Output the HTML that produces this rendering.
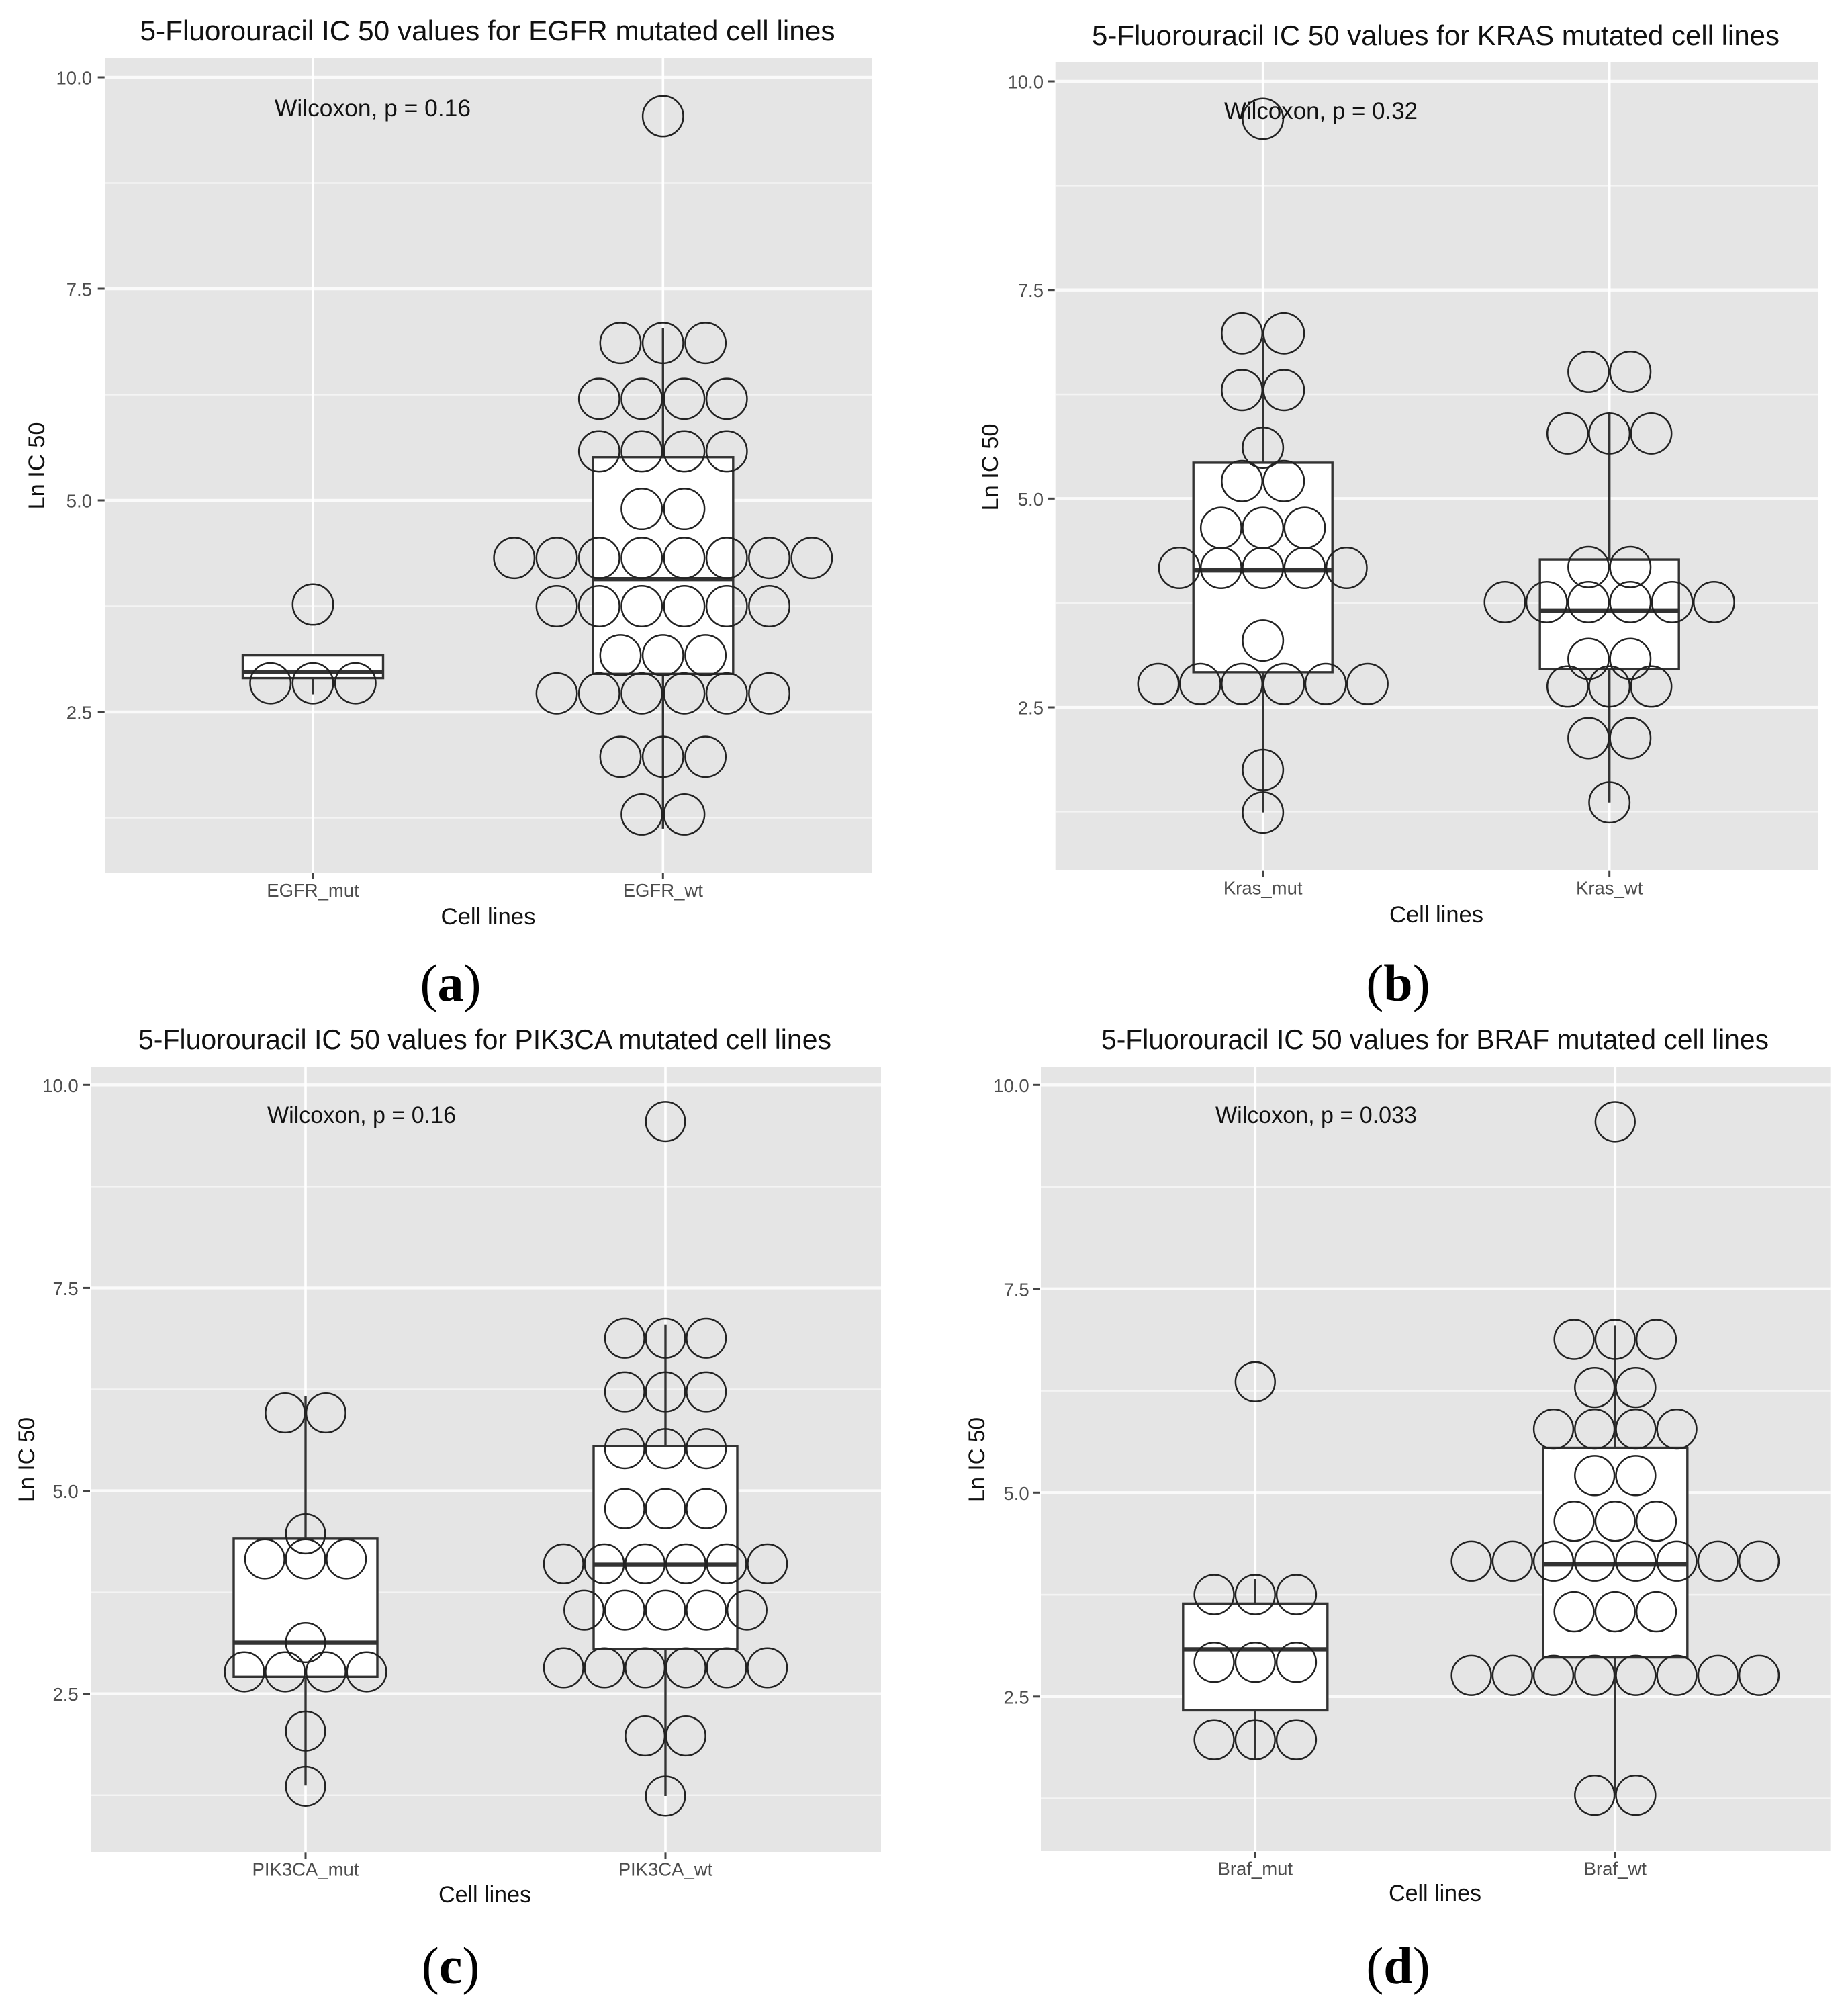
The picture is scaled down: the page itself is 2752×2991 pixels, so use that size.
<!DOCTYPE html>
<html lang="en">
<head>
<meta charset="utf-8">
<title>5-Fluorouracil IC 50 values by mutation status</title>
<style>
  html, body { margin: 0; padding: 0; background: #ffffff; }
  svg { display: block; }
  text { font-family: "Liberation Sans", sans-serif; }
  .title { font-size: 41.5px; fill: #111111; text-anchor: middle; }
  .axis-title { font-size: 34.7px; fill: #111111; text-anchor: middle; }
  .note { font-size: 35px; fill: #111111; }
  .tick-label { font-size: 27.5px; fill: #4d4d4d; }
  .panel-label { font-family: "Liberation Serif", serif; font-size: 78px; fill: #000000; text-anchor: middle; }
</style>
</head>
<body>
<svg id="figure" xmlns="http://www.w3.org/2000/svg" width="2752" height="2991" viewBox="0 0 2752 2991">
  <rect x="0" y="0" width="2752" height="2991" fill="#ffffff"/>

  <g id="plot-a"></g>
  <g id="plot-b"></g>
  <g id="plot-c"></g>
  <g id="plot-d"></g>

  <text class="title" x="726" y="60" textLength="1035" lengthAdjust="spacingAndGlyphs">5-Fluorouracil IC 50 values for EGFR mutated cell lines</text>
  <text class="title" x="2138" y="67" textLength="1024" lengthAdjust="spacingAndGlyphs">5-Fluorouracil IC 50 values for KRAS mutated cell lines</text>
  <text class="title" x="722" y="1562" textLength="1032" lengthAdjust="spacingAndGlyphs">5-Fluorouracil IC 50 values for PIK3CA mutated cell lines</text>
  <text class="title" x="2137" y="1562" textLength="994" lengthAdjust="spacingAndGlyphs">5-Fluorouracil IC 50 values for BRAF mutated cell lines</text>

  <text class="note" x="409" y="173" textLength="292" lengthAdjust="spacingAndGlyphs">Wilcoxon, p = 0.16</text>
  <text class="note" x="1823" y="177" textLength="288" lengthAdjust="spacingAndGlyphs">Wilcoxon, p = 0.32</text>
  <text class="note" x="398" y="1672" textLength="281" lengthAdjust="spacingAndGlyphs">Wilcoxon, p = 0.16</text>
  <text class="note" x="1810" y="1672" textLength="300" lengthAdjust="spacingAndGlyphs">Wilcoxon, p = 0.033</text>

  <text class="axis-title" x="727" y="1376" textLength="141" lengthAdjust="spacingAndGlyphs">Cell lines</text>
  <text class="axis-title" x="2139" y="1373" textLength="140" lengthAdjust="spacingAndGlyphs">Cell lines</text>
  <text class="axis-title" x="722" y="2832" textLength="138" lengthAdjust="spacingAndGlyphs">Cell lines</text>
  <text class="axis-title" x="2137" y="2830" textLength="138" lengthAdjust="spacingAndGlyphs">Cell lines</text>

  <text class="axis-title" transform="translate(66 693.5) rotate(-90)" textLength="130" lengthAdjust="spacingAndGlyphs">Ln IC 50</text>
  <text class="axis-title" transform="translate(1486 695.5) rotate(-90)" textLength="130" lengthAdjust="spacingAndGlyphs">Ln IC 50</text>
  <text class="axis-title" transform="translate(51 2173) rotate(-90)" textLength="126" lengthAdjust="spacingAndGlyphs">Ln IC 50</text>
  <text class="axis-title" transform="translate(1466 2173) rotate(-90)" textLength="126" lengthAdjust="spacingAndGlyphs">Ln IC 50</text>

  <text class="panel-label" x="671" y="1490">(<tspan font-weight="bold">a</tspan>)</text>
  <text class="panel-label" x="2082" y="1490">(<tspan font-weight="bold">b</tspan>)</text>
  <text class="panel-label" x="671" y="2953">(<tspan font-weight="bold">c</tspan>)</text>
  <text class="panel-label" x="2082" y="2953">(<tspan font-weight="bold">d</tspan>)</text>
</svg>

<script>
// Shared axis values
const yMajorTicks = [2.5, 5, 7.5, 10];
const yMajorLabels = ['2.5', '5.0', '7.5', '10.0'];
const yMinorTicks = [1.25, 3.75, 6.25, 8.75];

// Panel a: EGFR
const egfrCategories = ['EGFR_mut', 'EGFR_wt'];
const egfrMutRowValues = [3.77, 2.84];
const egfrMutRowCounts = [1, 3];
const egfrMutBox = [2.71, 2.90, 2.97, 3.17, 3.17];
const egfrWtRowValues = [9.54, 6.86, 6.20, 5.58, 4.90, 4.32, 3.75, 3.17, 2.72, 1.97, 1.29];
const egfrWtRowCounts = [1, 3, 4, 4, 2, 8, 6, 3, 6, 3, 2];
const egfrWtBox = [1.12, 2.95, 4.07, 5.51, 7.04];

// Panel b: KRAS
const krasCategories = ['Kras_mut', 'Kras_wt'];
const krasMutRowValues = [9.55, 6.98, 6.30, 5.61, 5.21, 4.65, 4.17, 3.30, 2.78, 1.75, 1.24];
const krasMutRowCounts = [1, 2, 2, 1, 2, 3, 5, 1, 6, 1, 1];
const krasMutBox = [1.24, 2.92, 4.14, 5.43, 6.93];
const krasWtRowValues = [6.52, 5.78, 4.18, 3.76, 3.08, 2.75, 2.13, 1.36];
const krasWtRowCounts = [2, 3, 2, 6, 2, 3, 2, 1];
const krasWtBox = [1.36, 2.96, 3.66, 4.27, 6.02];

// Panel c: PIK3CA
const pik3caCategories = ['PIK3CA_mut', 'PIK3CA_wt'];
const pik3caMutRowValues = [5.96, 4.47, 4.16, 3.13, 2.77, 2.04, 1.36];
const pik3caMutRowCounts = [2, 1, 3, 1, 4, 1, 1];
const pik3caMutBox = [1.37, 2.71, 3.13, 4.41, 6.17];
const pik3caWtRowValues = [9.55, 6.88, 6.22, 5.52, 4.78, 4.10, 3.53, 2.82, 1.98, 1.24];
const pik3caWtRowCounts = [1, 3, 3, 3, 3, 6, 5, 6, 2, 1];
const pik3caWtBox = [1.24, 3.05, 4.09, 5.55, 7.05];

// Panel d: BRAF
const brafCategories = ['Braf_mut', 'Braf_wt'];
const brafMutRowValues = [6.36, 3.75, 2.92, 1.97];
const brafMutRowCounts = [1, 3, 3, 3];
const brafMutBox = [1.73, 2.33, 3.08, 3.64, 3.94];
const brafWtRowValues = [9.55, 6.88, 6.29, 5.78, 5.21, 4.65, 4.16, 3.54, 2.76, 1.29];
const brafWtRowCounts = [1, 3, 2, 4, 2, 3, 8, 3, 8, 2];
const brafWtBox = [1.29, 2.98, 4.12, 5.55, 7.05];

const SVG_NS = 'http://www.w3.org/2000/svg';

function shape(parent, tag, attrs) {
  const el = document.createElementNS(SVG_NS, tag);
  for (const key in attrs) el.setAttribute(key, attrs[key]);
  parent.appendChild(el);
  return el;
}

function drawPlot(plot) {
  const root = document.getElementById(plot.id);
  const yScale = v => plot.y10 + (10 - v) * plot.pxPerUnit;
  const xScale = i => plot.x0 + i * plot.xStep;

  const panel = shape(root, 'rect', { x: plot.left, y: plot.top, width: plot.right - plot.left, height: plot.bottom - plot.top, fill: '#e5e5e5' });
  
  

  yMinorTicks.forEach(v => {
    const line = shape(root, 'line', { x1: plot.left, x2: plot.right, y1: yScale(v), y2: yScale(v), stroke: '#f4f4f4', 'stroke-width': 2.6 });
    
    
  });

  yMajorTicks.forEach((v, i) => {
    const y = yScale(v);
    const line = shape(root, 'line', { x1: plot.left, x2: plot.right, y1: y, y2: y, stroke: '#fafafa', 'stroke-width': 4.4 });
    
    

    const tick = shape(root, 'line', { x1: plot.left - 11, x2: plot.left - 1, y1: y, y2: y, stroke: '#444444', 'stroke-width': 3 });
    
    

    const label = shape(root, 'text', { x: plot.yLabelRight, y: y + 10.5, 'text-anchor': 'end', class: 'tick-label' });
    label.textContent = yMajorLabels[i];
    
    
  });

  plot.groups.forEach((group, i) => {
    const x = xScale(i);

    const grid = shape(root, 'line', { x1: x, x2: x, y1: plot.top, y2: plot.bottom, stroke: '#ffffff', 'stroke-width': 3.6 });
    
    

    const tick = shape(root, 'line', { x1: x, x2: x, y1: plot.bottom + 1, y2: plot.bottom + 10, stroke: '#444444', 'stroke-width': 3 });
    
    

    const label = shape(root, 'text', { x: x, y: plot.xLabelY, 'text-anchor': 'middle', class: 'tick-label' });
    label.textContent = plot.categories[i];
    
    
  });

  plot.groups.forEach((group, i) => {
    const x = xScale(i);
    const [low, q1, median, q3, high] = group.box;

    const whiskerHigh = shape(root, 'line', { x1: x, x2: x, y1: yScale(high), y2: yScale(q3), stroke: '#333333', 'stroke-width': 3.4 });
    
    

    const whiskerLow = shape(root, 'line', { x1: x, x2: x, y1: yScale(q1), y2: yScale(low), stroke: '#333333', 'stroke-width': 3.4 });
    
    

    const box = shape(root, 'rect', { x: x - plot.boxHalf, y: yScale(q3), width: plot.boxHalf * 2, height: yScale(q1) - yScale(q3), fill: '#ffffff', stroke: '#333333', 'stroke-width': 3.4 });
    
    

    const med = shape(root, 'line', { x1: x - plot.boxHalf, x2: x + plot.boxHalf, y1: yScale(median), y2: yScale(median), stroke: '#333333', 'stroke-width': 6.4 });
    
    

    group.rowValues.forEach((v, r) => {
      const n = group.rowCounts[r];
      for (let k = 0; k < n; k++) {
        const dot = shape(root, 'circle', { cx: x + (k - (n - 1) / 2) * plot.dotStep, cy: yScale(v), r: plot.dotR, fill: 'none', stroke: '#222222', 'stroke-width': 2.5 });
        
        
      }
    });
  });
}

drawPlot({
  id: 'plot-a', key: 'egfr', left: 156.7, right: 1299, top: 86.7, bottom: 1299,
  y10: 115, pxPerUnit: 126, x0: 466, xStep: 521.3, boxHalf: 104.5, dotStep: 63.3, dotR: 30.2,
  yLabelRight: 137, xLabelY: 1335, categories: egfrCategories,
  groups: [
    { rowValues: egfrMutRowValues, rowCounts: egfrMutRowCounts, box: egfrMutBox },
    { rowValues: egfrWtRowValues, rowCounts: egfrWtRowCounts, box: egfrWtBox }
  ]
});

drawPlot({
  id: 'plot-b', key: 'kras', left: 1571.7, right: 2707, top: 92.3, bottom: 1295.7,
  y10: 121, pxPerUnit: 124.27, x0: 1880.7, xStep: 516, boxHalf: 103.5, dotStep: 62.3, dotR: 30.2,
  yLabelRight: 1554, xLabelY: 1331.7, categories: krasCategories,
  groups: [
    { rowValues: krasMutRowValues, rowCounts: krasMutRowCounts, box: krasMutBox },
    { rowValues: krasWtRowValues, rowCounts: krasWtRowCounts, box: krasWtBox }
  ]
});

drawPlot({
  id: 'plot-c', key: 'pik3ca', left: 135, right: 1312, top: 1588, bottom: 2757.3,
  y10: 1615.3, pxPerUnit: 120.85, x0: 455, xStep: 536, boxHalf: 107, dotStep: 60.7, dotR: 29.3,
  yLabelRight: 116.7, xLabelY: 2792.7, categories: pik3caCategories,
  groups: [
    { rowValues: pik3caMutRowValues, rowCounts: pik3caMutRowCounts, box: pik3caMutBox },
    { rowValues: pik3caWtRowValues, rowCounts: pik3caWtRowCounts, box: pik3caWtBox }
  ]
});

drawPlot({
  id: 'plot-d', key: 'braf', left: 1550, right: 2725.7, top: 1588, bottom: 2756,
  y10: 1615.3, pxPerUnit: 121.4, x0: 1869.3, xStep: 536, boxHalf: 107.5, dotStep: 61.2, dotR: 29.4,
  yLabelRight: 1532.7, xLabelY: 2791.7, categories: brafCategories,
  groups: [
    { rowValues: brafMutRowValues, rowCounts: brafMutRowCounts, box: brafMutBox },
    { rowValues: brafWtRowValues, rowCounts: brafWtRowCounts, box: brafWtBox }
  ]
});
</script>
</body>
</html>
